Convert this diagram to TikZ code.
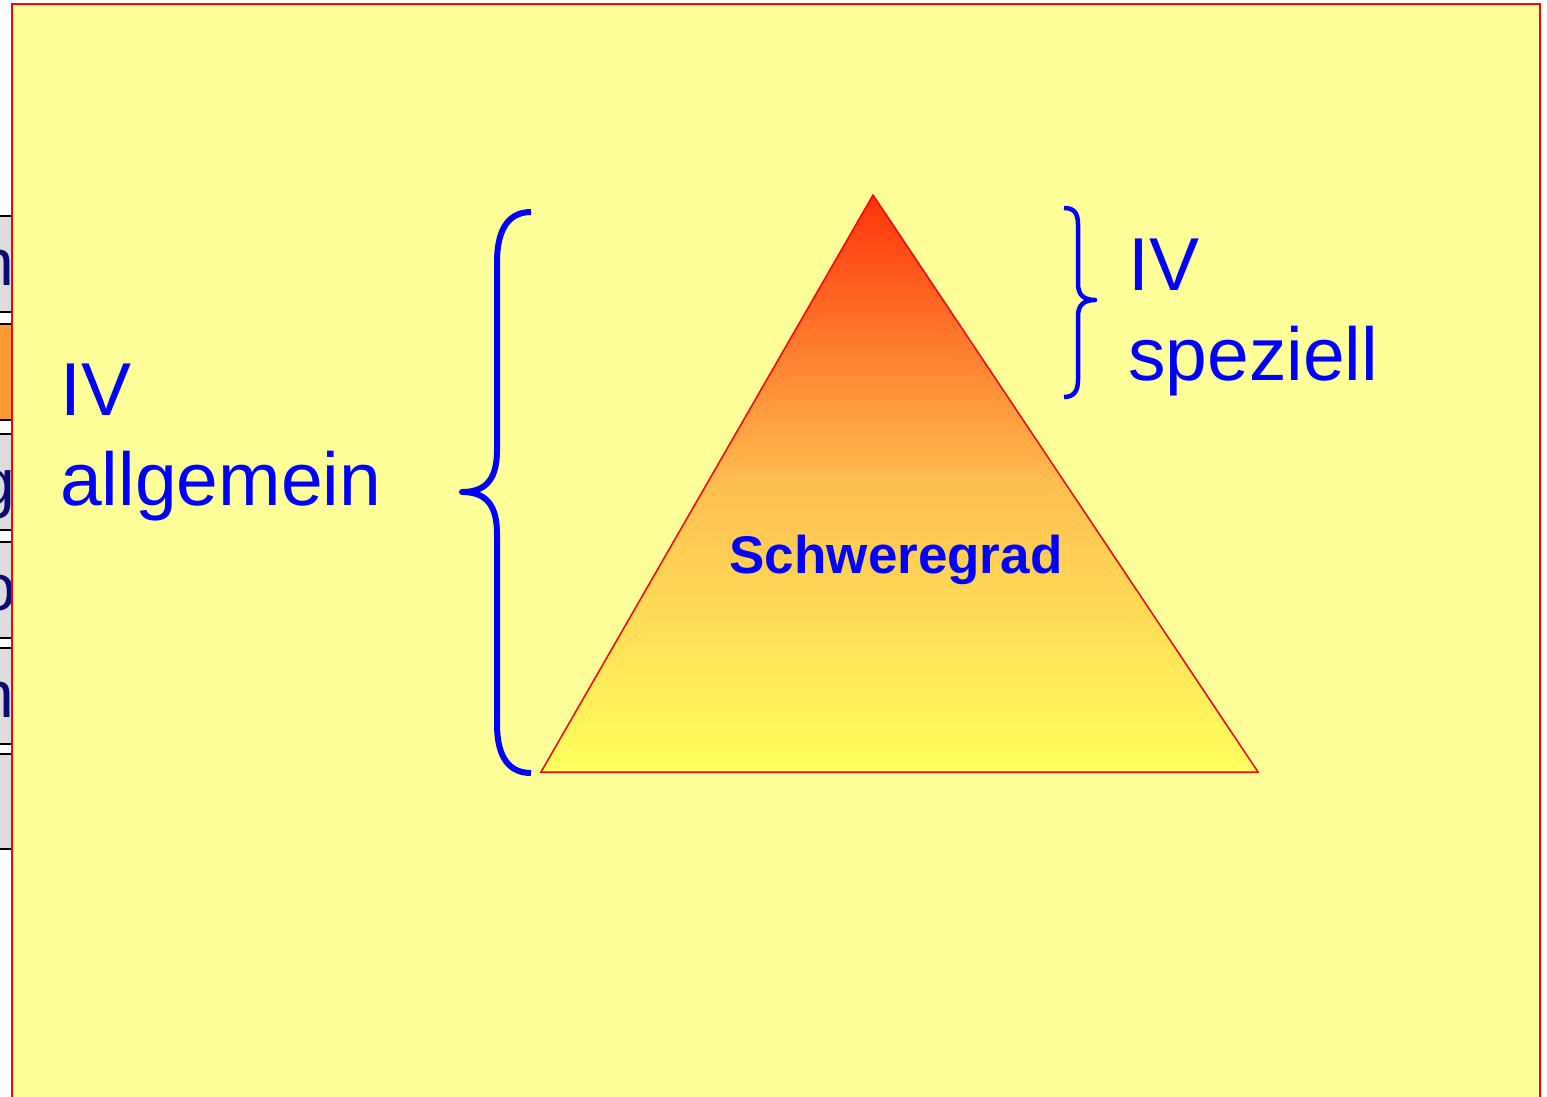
\documentclass[tikz,border=0pt]{standalone}
\usepackage{fontspec}
\setmainfont{Liberation Sans}
\definecolor{boxgray}{RGB}{220,220,220}
\definecolor{boxorange}{RGB}{255,153,51}
\definecolor{navytxt}{RGB}{10,10,120}
\definecolor{panelyellow}{RGB}{255,255,153}
\definecolor{tritop}{RGB}{255,51,10}
\definecolor{trimid}{RGB}{255,190,80}
\definecolor{tribot}{RGB}{255,255,95}
\begin{document}
\begin{tikzpicture}[x=1pt,y=-1pt,
  lbl/.style={inner sep=0pt,text=blue,font=\fontsize{75}{88}\selectfont},
  boxtxt/.style={inner sep=0pt,text=navytxt,font=\fontsize{66}{80}\selectfont},
  brace/.style={draw=blue,line cap=butt,line join=round}]
\useasboundingbox (0,0) rectangle (1547,1096);
\clip (0,0) rectangle (1547,1096);
\fill[white] (0,0) rectangle (1547,1096);
% left partial boxes
\foreach \t/\b/\c in {216/312/boxgray,324/420/boxorange,434/530/boxgray,542/638/boxgray,648/744/boxgray,754/849/boxgray}{
  \fill[\c] (-10,\t) rectangle (14,\b);
  \draw[black,line width=2pt] (-10,\t) -- (14,\t) (-10,\b) -- (14,\b);
}
\node[boxtxt,anchor=base east] (t1) at (14,285) {n};
\node[boxtxt,anchor=base east] (t3) at (15,505) {g};
\node[boxtxt,anchor=base east] (t4) at (16,610) {o};
\node[boxtxt,anchor=base east] (t5) at (14,717) {n};
% main panel
\draw[fill=panelyellow,draw=red,line width=2pt] (12,4) rectangle (1540,1110);
% triangle
\path[draw=red,line width=1.5pt,top color=tritop,bottom color=tribot,middle color=trimid]
  (873,195) coordinate (apex) -- (1258,772) coordinate (br) -- (541,772) coordinate (bl) -- cycle;
\node[inner sep=0pt,text=blue,font=\bfseries\fontsize{53}{64}\selectfont,anchor=base] (sg) at (896,573) {Schweregrad};
% big brace
\draw[brace,line width=6pt] (531,212) .. controls (505,212) and (497,235) .. (497,262) -- (497,450)
  .. controls (497,478) and (487,492) .. (462,492) coordinate (tipL)
  .. controls (487,492) and (497,506) .. (497,534) -- (497,724)
  .. controls (497,751) and (505,773) .. (531,773);
% small brace
\draw[brace,line width=4.5pt] (1064,208) .. controls (1075,208) and (1078,214) .. (1078,225) -- (1078,284)
  .. controls (1078,295) and (1084,300) .. (1095,300) coordinate (tipR)
  .. controls (1084,300) and (1078,305) .. (1078,316) -- (1078,380)
  .. controls (1078,391) and (1074,397) .. (1064,397);
\node[lbl,anchor=base west] (iv1) at (60,415) {IV};
\node[lbl,anchor=base west] (allg) at (60,505) {allgemein};
\node[lbl,anchor=base west] (iv2) at (1128,290) {IV};
\node[lbl,anchor=base west] (spez) at (1128,380) {speziell};
\end{tikzpicture}
\end{document}
